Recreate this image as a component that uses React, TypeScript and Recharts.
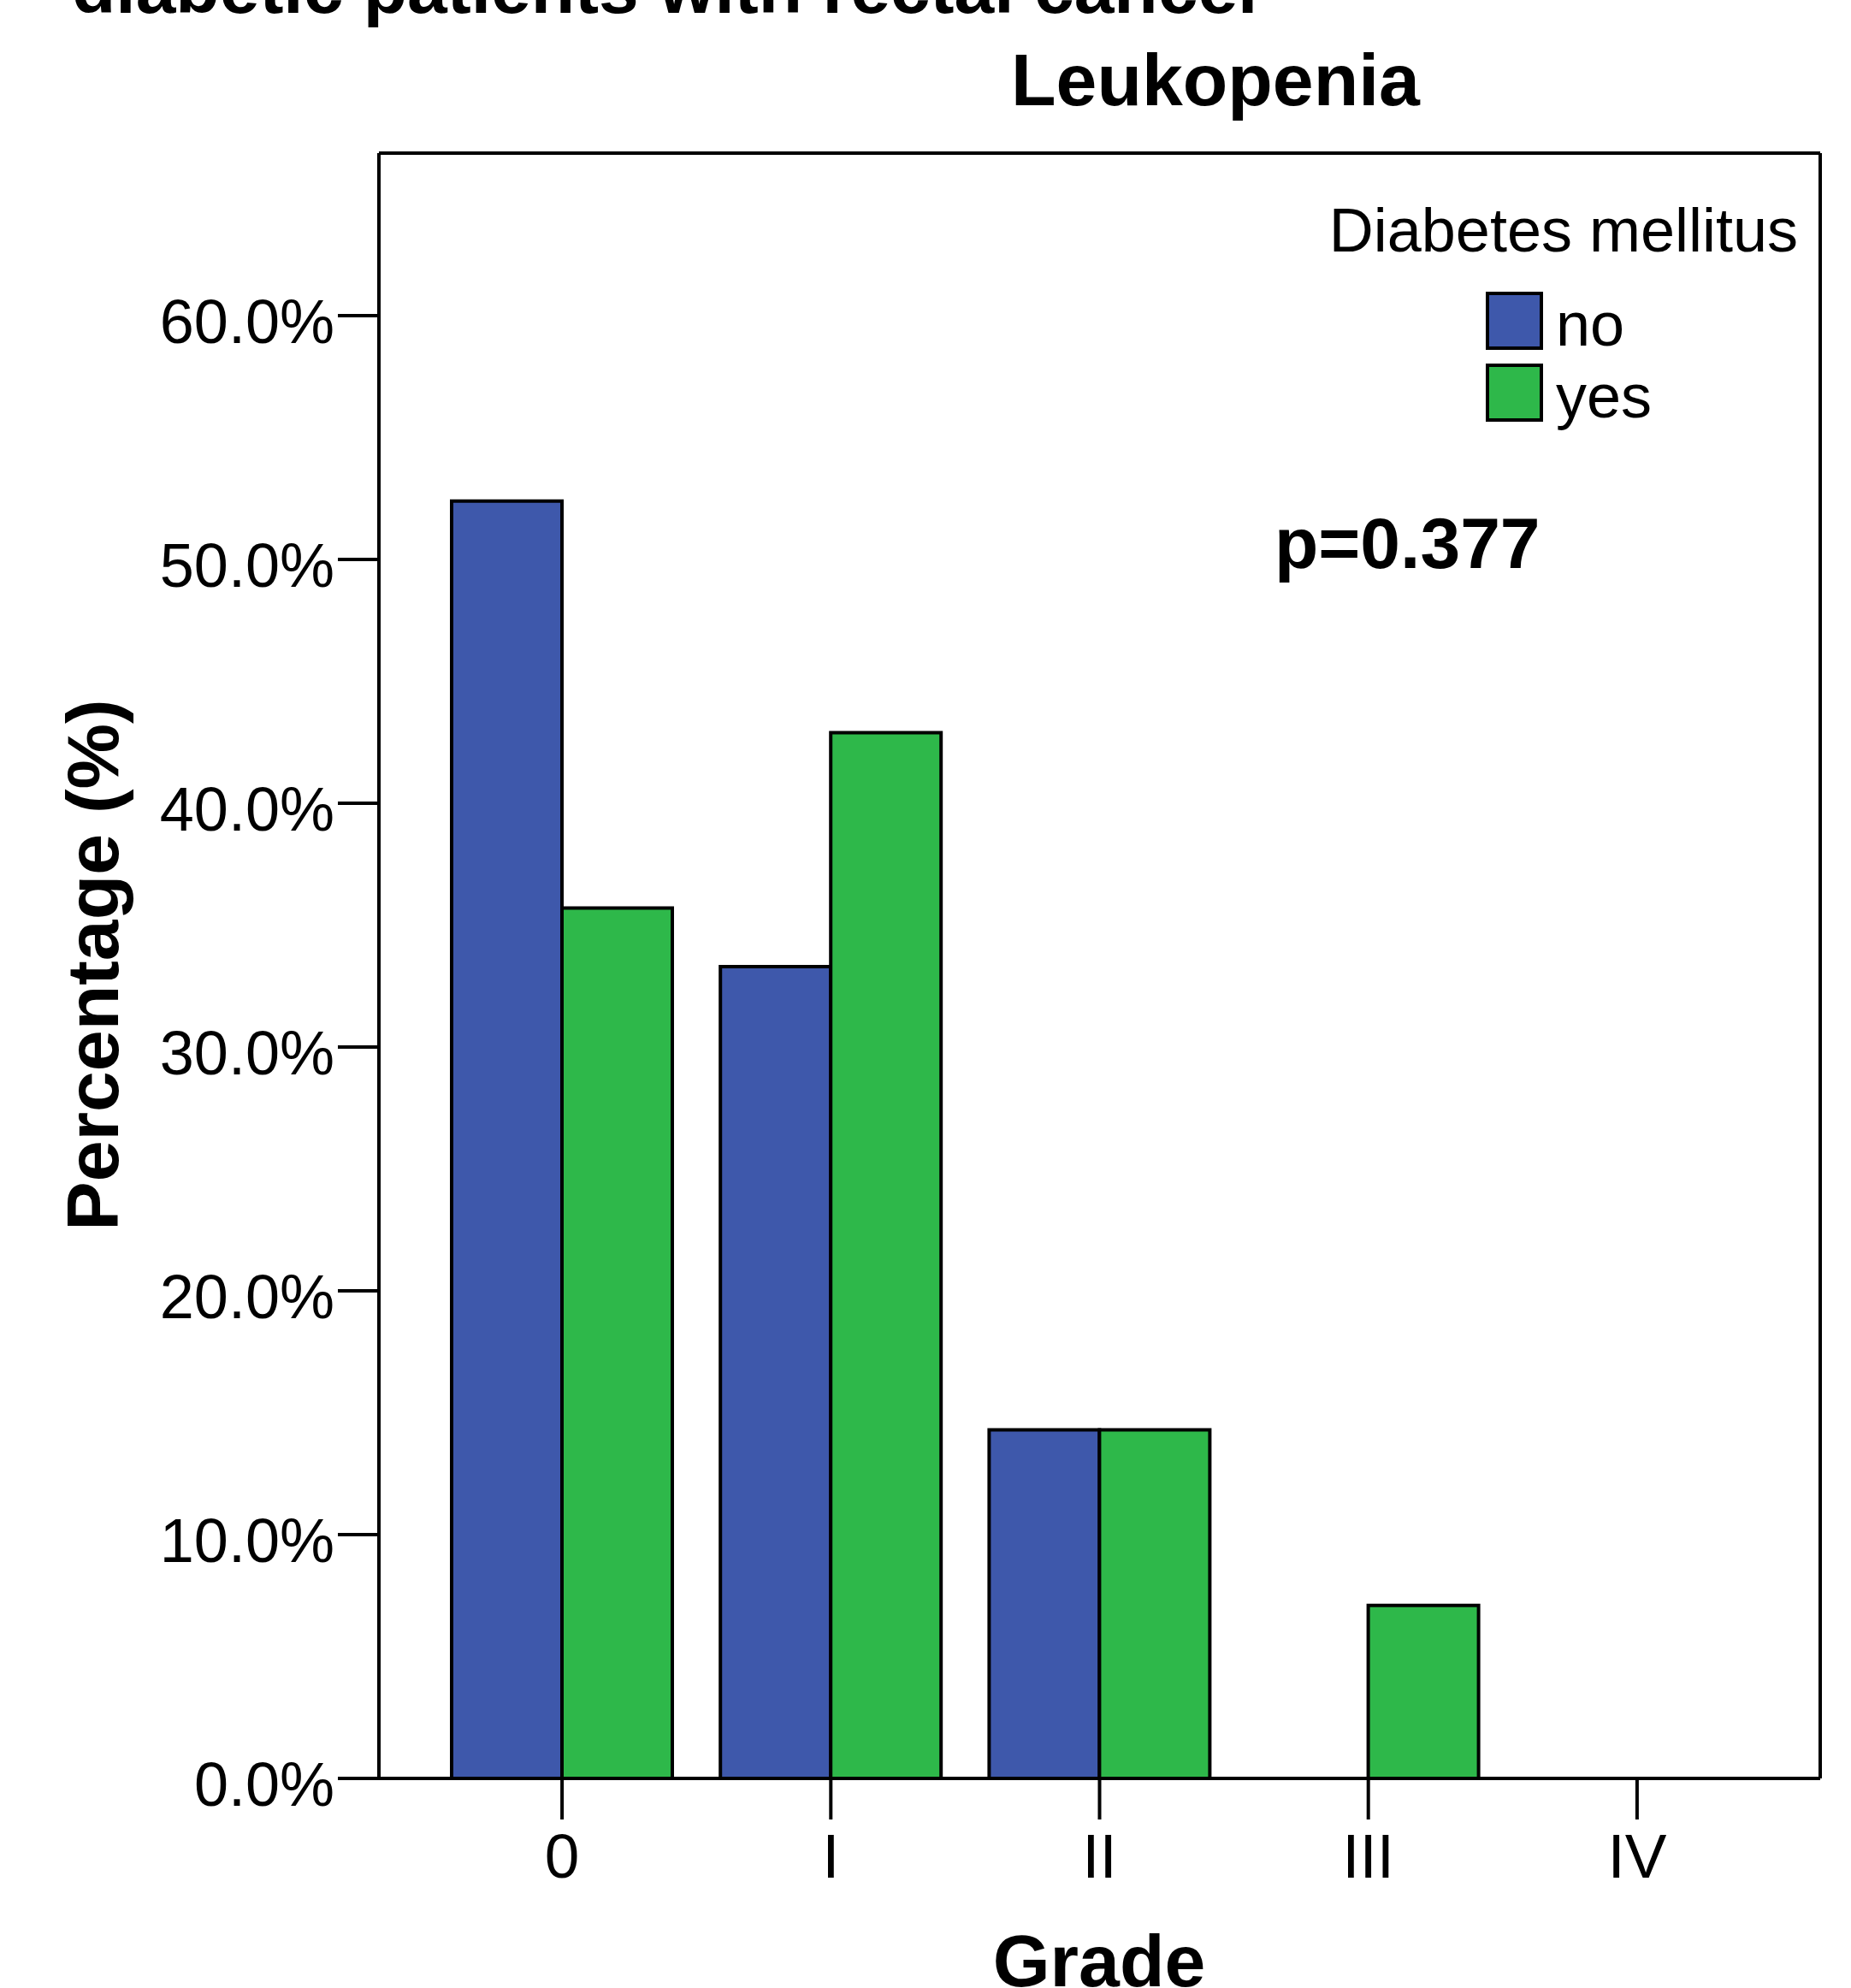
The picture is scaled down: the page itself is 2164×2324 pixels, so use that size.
import React from 'react';
import { BarChart, Bar, XAxis, YAxis, Legend, CartesianGrid } from 'recharts';

const grades = ['0', 'I', 'II', 'III', 'IV'];
const noValues = [52.4, 33.3, 14.3, 0, 0];
const yesValues = [35.7, 42.9, 14.3, 7.1, 0];
const yTicks = [0, 10, 20, 30, 40, 50, 60];
const seriesNames = ['no', 'yes'];
const seriesColors = ['#3E58AB', '#2EB84A'];

const FONT = '"Liberation Sans", Arial, Helvetica, sans-serif';
const LINE = 4;

const data = grades.map((grade, i) => ({
  grade,
  no: noValues[i],
  yes: yesValues[i]
}));

const YTick = (props: any) => {
  const { x, y, payload } = props;
  return (
    <text x={x} y={y} dy={32} textAnchor="end" fontSize={72} fontFamily={FONT} fill="#000">
      {Number(payload.value).toFixed(1)}%
    </text>
  );
};

const XTick = (props: any) => {
  const { x, y, payload } = props;
  return (
    <text x={x} y={y} dy={68} textAnchor="middle" fontSize={73} fontFamily={FONT} fill="#000">
      {payload.value}
    </text>
  );
};

const LegendBox = (props: any) => {
  const payload = props.payload || [];
  return (
    <div style={{ position: 'relative', width: 2164, height: 0, fontFamily: FONT, color: '#000' }}>
      <div
        style={{
          position: 'absolute',
          right: 62,
          top: 233,
          fontSize: 72,
          lineHeight: '72px',
          whiteSpace: 'nowrap'
        }}
      >
        Diabetes mellitus
      </div>
      {payload.map((entry: any, i: number) => (
        <div key={entry.value} style={{ position: 'absolute', left: 1737, top: 341 + i * 84 }}>
          <div
            style={{
              position: 'absolute',
              left: 0,
              top: 0,
              width: 67,
              height: 68,
              boxSizing: 'border-box',
              border: '4px solid #000',
              background: entry.color
            }}
          />
          <div
            style={{
              position: 'absolute',
              left: 82,
              top: 2,
              fontSize: 72,
              lineHeight: '72px',
              whiteSpace: 'nowrap'
            }}
          >
            {entry.value}
          </div>
        </div>
      ))}
    </div>
  );
};

// top and right edges of the plot frame
const topEdge = ({ offset }: any) => [offset.top];
const rightEdge = ({ offset }: any) => [offset.left + offset.width];

const App: React.FC = () => {
  return (
    <div style={{ position: 'absolute', left: 0, top: 0, width: 2164, height: 2324, background: '#fff' }}>
      <BarChart
        width={2164}
        height={2324}
        data={data}
        margin={{ top: 179, right: 36, left: 0, bottom: 0 }}
        barGap={0}
        barSize={129}
      >
        <CartesianGrid
          stroke="#000"
          strokeWidth={LINE}
          horizontalCoordinatesGenerator={topEdge}
          verticalCoordinatesGenerator={rightEdge}
        />
        <XAxis
          dataKey="grade"
          height={245}
          padding={{ left: 57, right: 57 }}
          tickSize={48}
          tickMargin={0}
          tick={<XTick />}
          axisLine={{ stroke: '#000', strokeWidth: LINE }}
          tickLine={{ stroke: '#000', strokeWidth: LINE }}
        />
        <YAxis
          width={443}
          domain={[0, 66.67]}
          ticks={yTicks}
          allowDataOverflow
          tickSize={48}
          tickMargin={4}
          tick={<YTick />}
          axisLine={{ stroke: '#000', strokeWidth: LINE }}
          tickLine={{ stroke: '#000', strokeWidth: LINE }}
        />
        <Legend
          layout="vertical"
          align="center"
          verticalAlign="middle"
          wrapperStyle={{ left: 0, top: 0, width: 2164 }}
          content={<LegendBox />}
        />
        {seriesNames.map((name, i) => (
          <Bar
            key={name}
            dataKey={name}
            name={name}
            fill={seriesColors[i]}
            stroke="#000"
            strokeWidth={LINE}
            isAnimationActive={false}
          />
        ))}
      </BarChart>
      <svg
        width={2164}
        height={2324}
        style={{ position: 'absolute', left: 0, top: 0, pointerEvents: 'none' }}
      >
        <g fontFamily={FONT} fontWeight="bold" fill="#000">
          <text x={84} y={15} fontSize={84}>diabetic patients with rectal cancer</text>
          <text x={1421} y={123} fontSize={86} textAnchor="middle">Leukopenia</text>
          <text x={1490} y={664} fontSize={84}>p=0.377</text>
          <text transform="translate(138,1128) rotate(-90)" fontSize={86} textAnchor="middle">
            Percentage (%)
          </text>
          <text x={1285} y={2322} fontSize={86} textAnchor="middle">Grade</text>
        </g>
      </svg>
    </div>
  );
};

export default App;
